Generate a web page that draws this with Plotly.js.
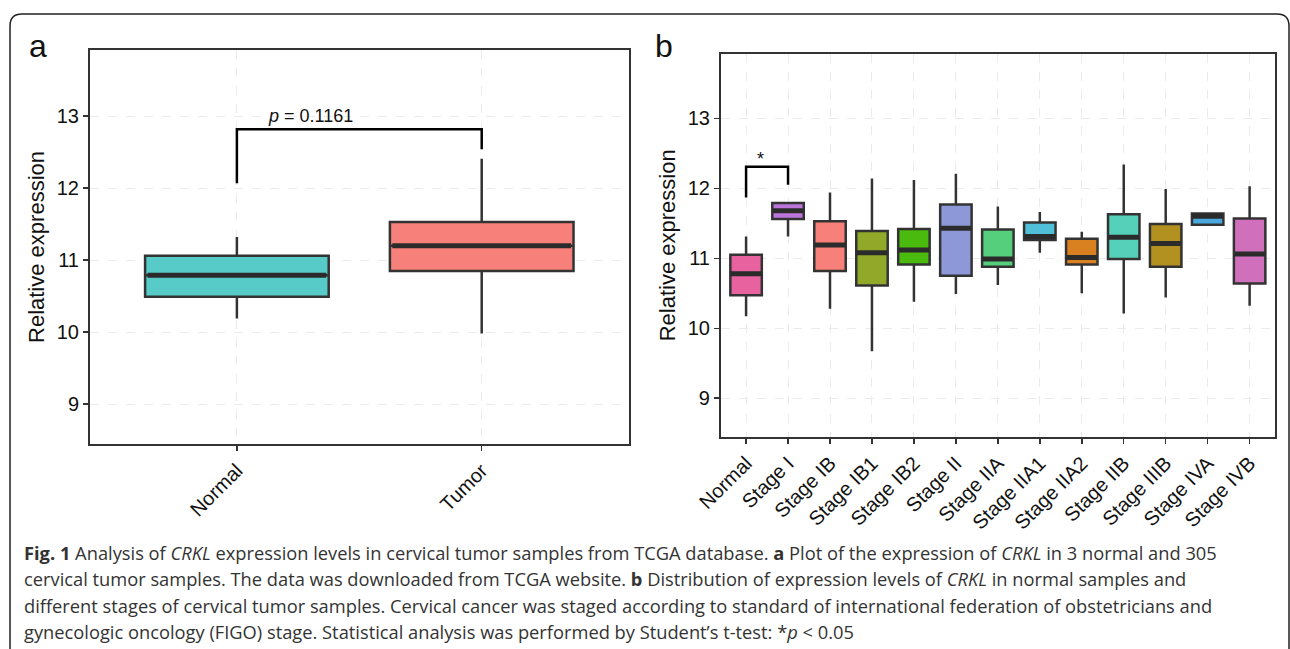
<!DOCTYPE html>
<html>
<head>
<meta charset="utf-8">
<script src="https://cdn.plot.ly/plotly-3.0.1.min.js"></script>
<style>
html,body{margin:0;padding:0;background:#fff;}
#chart{width:1290px;height:649px;}
</style>
</head>
<body>
<div id="chart"></div>
<script>
// ---------- Panel a data ----------
const catsA = ['Normal', 'Tumor'];
const q1A = [10.49, 10.85];
const medA = [10.79, 11.20];
const q3A = [11.06, 11.53];
const loA = [10.19, 9.98];
const hiA = [11.32, 12.41];
const colorsA = ['#56CBC8', '#F8807A'];
const bracketA_y = [12.07, 12.82, 12.82, 12.54];
const pLabelA = 'p';
const pValueA = ' = 0.1161';

// ---------- Panel b data ----------
const catsB = ['Normal', 'Stage I', 'Stage IB', 'Stage IB1', 'Stage IB2', 'Stage II', 'Stage IIA',
  'Stage IIA1', 'Stage IIA2', 'Stage IIB', 'Stage IIIB', 'Stage IVA', 'Stage IVB'];
const q1B = [10.47, 11.56, 10.82, 10.61, 10.91, 10.75, 10.88, 11.26, 10.91, 10.99, 10.88, 11.48, 10.64];
const medB = [10.78, 11.68, 11.19, 11.08, 11.12, 11.43, 10.99, 11.31, 11.01, 11.30, 11.21, 11.60, 11.06];
const q3B = [11.05, 11.79, 11.53, 11.39, 11.42, 11.77, 11.41, 11.51, 11.28, 11.63, 11.49, 11.64, 11.57];
const loB = [10.17, 11.31, 10.28, 9.67, 10.38, 10.49, 10.62, 11.08, 10.50, 10.21, 10.44, 11.48, 10.32];
const hiB = [11.31, 11.79, 11.94, 12.14, 12.12, 12.21, 11.74, 11.66, 11.38, 12.34, 11.99, 11.64, 12.03];
const colorsB = ['#E7629F', '#BC76DB', '#F8807A', '#92A829', '#4BBA0E', '#8C98D8', '#56CF7C',
  '#4FC0D8', '#D98020', '#55D1BA', '#B39120', '#4AA8DF', '#D070BD'];
const bracketB_y = [11.87, 12.31, 12.31, 12.05];
const starLabelB = '*';

const captionLines = [
  '<b>Fig. 1</b> Analysis of <i>CRKL</i> expression levels in cervical tumor samples from TCGA database. <b>a</b> Plot of the expression of <i>CRKL</i> in 3 normal and 305',
  'cervical tumor samples. The data was downloaded from TCGA website. <b>b</b> Distribution of expression levels of <i>CRKL</i> in normal samples and',
  'different stages of cervical tumor samples. Cervical cancer was staged according to standard of international federation of obstetricians and',
  'gynecologic oncology (FIGO) stage. Statistical analysis was performed by Student\u2019s t-test: *<i>p</i> &lt; 0.05'
];

// ---------- Build ----------
const W = 1290, H = 649;
const px = x => x / W;
const py = y => 1 - y / H;
const BOXW = 0.75;
const LINE = '#333333';
const traces = [];

function addBoxes(cats, q1, med, q3, lo, hi, colors, xa, ya, lw) {
  cats.forEach((c, i) => {
    traces.push({
      type: 'box', x: [i], q1: [q1[i]], median: [med[i]], q3: [q3[i]],
      lowerfence: [lo[i]], upperfence: [hi[i]],
      width: BOXW, whiskerwidth: 0, boxpoints: false,
      fillcolor: colors[i], line: {color: LINE, width: lw},
      xaxis: xa, yaxis: ya, showlegend: false, hoverinfo: 'skip'
    });
  });
  // thick median bars (ggplot style)
  const mx = [], my = [];
  cats.forEach((c, i) => {
    mx.push(i - BOXW / 2 + 0.01, i + BOXW / 2 - 0.01, null);
    my.push(med[i], med[i], null);
  });
  traces.push({type: 'scatter', mode: 'lines', x: mx, y: my, xaxis: xa, yaxis: ya,
    line: {color: '#2b2b2b', width: 5}, showlegend: false, hoverinfo: 'skip'});
}

addBoxes(catsA, q1A, medA, q3A, loA, hiA, colorsA, 'x', 'y', 2.5);
addBoxes(catsB, q1B, medB, q3B, loB, hiB, colorsB, 'x2', 'y2', 2.5);

// brackets
traces.push({type: 'scatter', mode: 'lines', x: [0, 0, 1, 1], y: bracketA_y, xaxis: 'x', yaxis: 'y',
  line: {color: '#000', width: 2.5}, showlegend: false, hoverinfo: 'skip'});
traces.push({type: 'scatter', mode: 'lines', x: [0, 0, 1, 1], y: bracketB_y, xaxis: 'x2', yaxis: 'y2',
  line: {color: '#000', width: 2.5}, showlegend: false, hoverinfo: 'skip'});

const FONT = 'Liberation Sans, Arial, sans-serif';
function yAxis(domain, anchor, range) {
  return {
    domain: domain, anchor: anchor, range: range, tickvals: [9, 10, 11, 12, 13],
    ticks: 'outside', ticklen: 5, tickwidth: 1.5, tickcolor: LINE,
    showline: true, mirror: true, linecolor: LINE, linewidth: 2,
    showgrid: true, gridcolor: '#ebebeb', griddash: 'dash', gridwidth: 1,
    zeroline: false, automargin: false,
    tickfont: {family: FONT, size: 20, color: '#111'},
    title: {text: 'Relative expression', font: {family: FONT, size: 22, color: '#111'}, standoff: 6}
  };
}
function xAxis(domain, anchor, cats, range) {
  return {
    domain: domain, anchor: anchor, range: range, tickvals: cats.map((c, i) => i), ticktext: cats,
    tickangle: -45, ticks: 'outside', ticklen: 5, tickwidth: 1.5, tickcolor: LINE,
    showline: true, mirror: true, linecolor: LINE, linewidth: 2,
    showgrid: true, gridcolor: '#ebebeb', griddash: 'dash', gridwidth: 1,
    zeroline: false, automargin: false,
    tickfont: {family: FONT, size: 20, color: '#111'}
  };
}

const annotations = [
  {xref: 'paper', yref: 'paper', x: px(38), y: py(46), text: 'a', showarrow: false,
    font: {family: FONT, size: 32, color: '#111'}, xanchor: 'center', yanchor: 'middle'},
  {xref: 'paper', yref: 'paper', x: px(664), y: py(46), text: 'b', showarrow: false,
    font: {family: FONT, size: 32, color: '#111'}, xanchor: 'center', yanchor: 'middle'},
  {xref: 'x', yref: 'y', x: 0.3, y: 13.0, text: '<i>' + pLabelA + '</i>' + pValueA, showarrow: false,
    font: {family: FONT, size: 18, color: '#111'}, xanchor: 'center', yanchor: 'middle'},
  {xref: 'x2', yref: 'y2', x: 0.35, y: 12.42, text: starLabelB, showarrow: false,
    font: {family: FONT, size: 18, color: '#111'}, xanchor: 'center', yanchor: 'middle'}
];
const capY = [552, 578.5, 605, 631.5];
captionLines.forEach((t, i) => {
  annotations.push({xref: 'paper', yref: 'paper', x: px(22), y: py(capY[i]), text: t, showarrow: false,
    xanchor: 'left', yanchor: 'middle', align: 'left',
    font: {family: 'Open Sans, sans-serif', size: 18.3, color: '#333'}});
});

const r = 12;
const framePath = 'M ' + px(10) + ',' + py(660) + ' L ' + px(10) + ',' + py(14 + r) +
  ' Q ' + px(10) + ',' + py(14) + ' ' + px(10 + r) + ',' + py(14) +
  ' L ' + px(1277) + ',' + py(14) + ' Q ' + px(1289) + ',' + py(14) + ' ' + px(1289) + ',' + py(14 + r) +
  ' L ' + px(1289) + ',' + py(660);

const layout = {
  width: W, height: H, margin: {l: 0, r: 0, t: 0, b: 0},
  paper_bgcolor: '#fff', plot_bgcolor: '#fff', showlegend: false,
  xaxis: xAxis([px(90), px(628.6)], 'y', catsA, [-0.6, 1.6]),
  yaxis: yAxis([py(444), py(50)], 'x', [8.445, 13.92]),
  xaxis2: xAxis([px(720.9), px(1274.8)], 'y2', catsB, [-0.6, 12.6]),
  yaxis2: yAxis([py(436.7), py(54)], 'x2', [8.45, 13.92]),
  annotations: annotations,
  shapes: [{type: 'path', xref: 'paper', yref: 'paper', path: framePath,
    line: {color: '#222', width: 1.5}}]
};

Plotly.newPlot('chart', traces, layout, {staticPlot: true, displayModeBar: false});
</script>
</body>
</html>
